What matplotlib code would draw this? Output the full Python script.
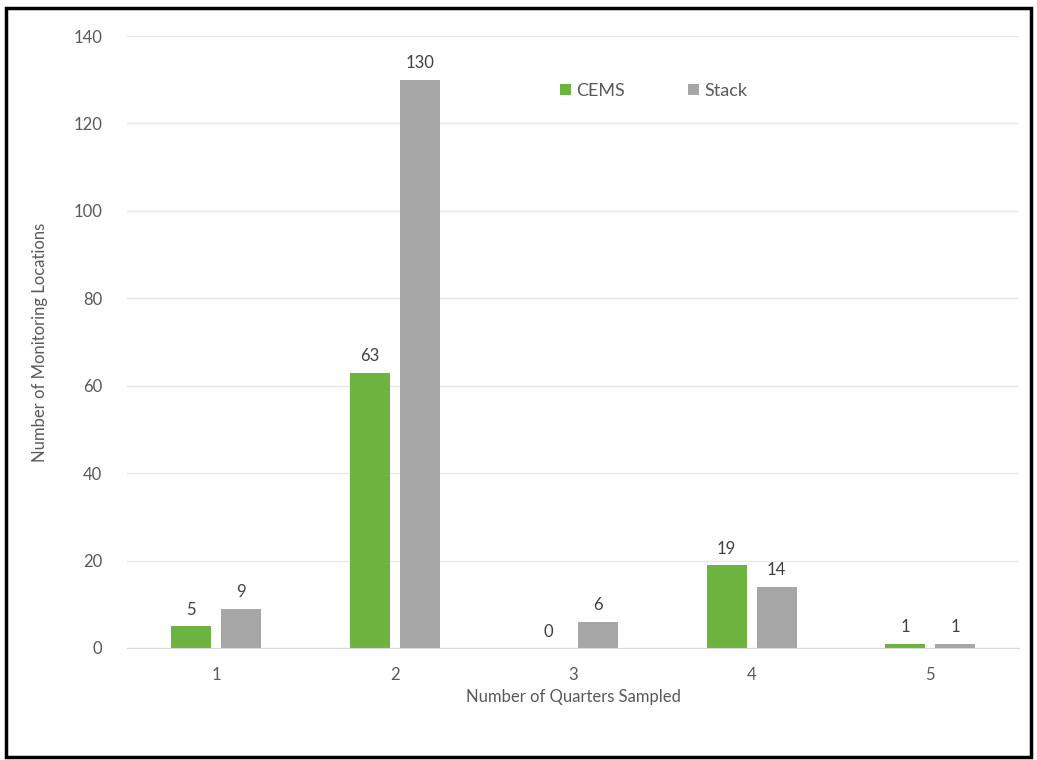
import numpy as np
import matplotlib.pyplot as plt
from matplotlib.patches import Rectangle

plt.rcParams['font.family'] = ['Lato', 'DejaVu Sans']

# Data
quarters = ['1', '2', '3', '4', '5']
cems = [5, 63, 0, 19, 1]
stack = [9, 130, 6, 14, 1]

green = '#6db33f'
gray = '#a6a6a6'
text_color = '#595959'

fig = plt.figure(figsize=(10.37, 7.6), dpi=100)
ax = fig.add_axes([0.1225, 0.1474, 0.8605, 0.8052])

x = np.arange(1, len(quarters) + 1)
width = 0.225
offset = 0.14
b1 = ax.bar(x - offset, cems, width, color=green, label='CEMS')
b2 = ax.bar(x + offset, stack, width, color=gray, label='Stack')

# data labels above bars
for bars in (b1, b2):
    for rect in bars:
        h = rect.get_height()
        ax.annotate(f'{h:g}', xy=(rect.get_x() + rect.get_width() / 2, h),
                    xytext=(0, 6), textcoords='offset points',
                    ha='center', va='bottom', fontsize=12, color='#404040')

ax.set_xlim(0.5, 5.5)
ax.set_ylim(0, 140)
ax.set_yticks(np.arange(0, 141, 20))
ax.set_xticks(x)
ax.set_xticklabels(quarters)

ax.grid(axis='y', color='#e8e8e8', linewidth=1)
ax.set_axisbelow(True)
for side in ['top', 'right', 'left']:
    ax.spines[side].set_visible(False)
ax.spines['bottom'].set_color('#d9d9d9')
ax.tick_params(axis='both', length=0, labelsize=12, colors=text_color, pad=14)
ax.tick_params(axis='y', pad=18)

ax.set_xlabel('Number of Quarters Sampled', fontsize=12, color=text_color, labelpad=4)
ax.set_ylabel('Number of Monitoring Locations', fontsize=12, color=text_color, labelpad=18)

ax.legend(loc='upper center', bbox_to_anchor=(0.59, 0.95), ncol=2, frameon=False,
          fontsize=13, labelcolor=text_color, handlelength=0.6, handleheight=0.6,
          columnspacing=3.5, handletextpad=0.3)

# outer frame
fig.patches.append(Rectangle((0.006, 0.004), 0.988, 0.986, transform=fig.transFigure,
                             fill=False, edgecolor='black', linewidth=2.5))

fig.savefig('out.png', dpi=100)
